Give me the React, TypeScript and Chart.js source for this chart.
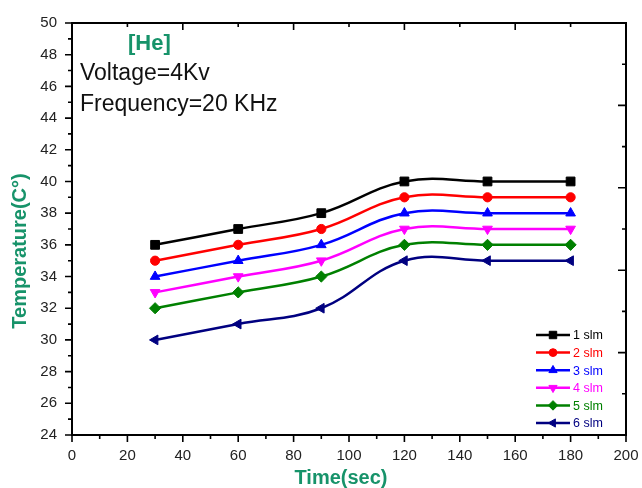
import React, { useEffect, useRef } from 'react';
import { Chart, registerables } from 'chart.js';
import { drawPoint } from 'chart.js/helpers';

Chart.register(...registerables);

// ---- data ----
const timeSec = [30, 60, 90, 120, 150, 180];
const slm1 = [36, 37, 38, 40, 40, 40];
const slm2 = [35, 36, 37, 39, 39, 39];
const slm3 = [34, 35, 36, 38, 38, 38];
const slm4 = [33, 34, 35, 37, 37, 37];
const slm5 = [32, 33, 34, 36, 36, 36];
const slm6 = [30, 31, 32, 35, 35, 35];
const seriesValues = [slm1, slm2, slm3, slm4, slm5, slm6];
const seriesLabels = ['1 slm', '2 slm', '3 slm', '4 slm', '5 slm', '6 slm'];
const seriesColors = ['#000000', '#ff0000', '#0000ff', '#ff00ff', '#008000', '#000080'];
const seriesMarkers = ['rect', 'circle', 'triangle', 'triangle', 'rectRot', 'triangle'];
const markerRotation = [0, 0, 0, 180, 0, -90];
const markerRadius = [6.2, 4.6, 5.6, 5.6, 5.6, 5.6];

const xMin = 0, xMax = 200, xStep = 20;
const yMin = 24, yMax = 50, yStep = 2;

const titleX = 'Time(sec)';
const titleY = 'Temperature(C°)';
const noteGas = '[He]';
const noteVoltage = 'Voltage=4Kv';
const noteFreq = 'Frequency=20 KHz';

const FONT = '"Liberation Sans", Arial, Helvetica, sans-serif';
const GREEN = '#17936a';

const framePlugin = {
  id: 'framePlugin',
  afterDraw(chart: any) {
    const { ctx, chartArea: a, scales } = chart;
    const xs = scales.x, ys = scales.y;
    ctx.save();
    ctx.strokeStyle = '#000';
    ctx.lineWidth = 2;
    ctx.strokeRect(a.left, a.top, a.right - a.left, a.bottom - a.top);
    ctx.lineWidth = 1.6;
    ctx.beginPath();
    // bottom ticks (outward): major 20, minor 10
    for (let v = xMin; v <= xMax; v += xStep / 2) {
      const px = xs.getPixelForValue(v);
      const len = v % xStep === 0 ? 7 : 4;
      ctx.moveTo(px, a.bottom); ctx.lineTo(px, a.bottom + len);
    }
    // top ticks (inward): major 40, minor 20
    for (let v = xMin; v <= xMax; v += xStep) {
      const px = xs.getPixelForValue(v);
      const len = v % (xStep * 2) === 0 ? 7 : 4;
      ctx.moveTo(px, a.top); ctx.lineTo(px, a.top + len);
    }
    // left ticks (outward): major 2, minor 1
    for (let v = yMin; v <= yMax; v += yStep / 2) {
      const py = ys.getPixelForValue(v);
      const len = (v - yMin) % yStep === 0 ? 7 : 4;
      ctx.moveTo(a.left, py); ctx.lineTo(a.left - len, py);
    }
    // right ticks (inward): own opposite-axis spacing
    const span = yMax - yMin;
    for (let k = 0; k <= 10; k++) {
      const py = ys.getPixelForValue(yMin + (span * k) / 10);
      const len = k % 2 === 0 ? 8 : 4;
      ctx.moveTo(a.right, py); ctx.lineTo(a.right - len, py);
    }
    ctx.stroke();

    // annotations
    ctx.textBaseline = 'alphabetic';
    ctx.textAlign = 'left';
    ctx.fillStyle = GREEN;
    ctx.font = `bold 22px ${FONT}`;
    ctx.fillText(noteGas, a.left + 56, a.top + 27);
    ctx.fillStyle = '#111';
    ctx.font = `23px ${FONT}`;
    ctx.fillText(noteVoltage, a.left + 8, a.top + 57);
    ctx.fillText(noteFreq, a.left + 8, a.top + 88);

    // axis titles
    ctx.fillStyle = GREEN;
    ctx.font = `bold 20px ${FONT}`;
    ctx.textAlign = 'center';
    ctx.textBaseline = 'middle';
    ctx.fillText(titleX, (a.left + a.right) / 2 - 8, a.bottom + 43);
    ctx.save();
    ctx.translate(20, (a.top + a.bottom) / 2 + 22);
    ctx.rotate(-Math.PI / 2);
    ctx.font = `bold 20px ${FONT}`;
    ctx.fillText(titleY, 0, 0);
    ctx.restore();

    // legend
    ctx.font = `12.5px ${FONT}`;
    ctx.textAlign = 'left';
    ctx.textBaseline = 'middle';
    const n = seriesLabels.length;
    for (let i = 0; i < n; i++) {
      const y = a.bottom - 12 - (n - 1 - i) * 17.6;
      const x0 = a.right - 90, x1 = a.right - 56;
      ctx.strokeStyle = seriesColors[i];
      ctx.fillStyle = seriesColors[i];
      ctx.lineWidth = 2.5;
      ctx.beginPath();
      ctx.moveTo(x0, y); ctx.lineTo(x1, y);
      ctx.stroke();
      ctx.lineWidth = 1;
      drawPoint(ctx, {
        pointStyle: seriesMarkers[i],
        radius: markerRadius[i] * 0.85,
        rotation: markerRotation[i],
        borderWidth: 1,
      } as any, (x0 + x1) / 2, y);
      ctx.fillStyle = seriesColors[i];
      ctx.fillText(seriesLabels[i], x1 + 3, y + 1);
    }
    ctx.restore();
  },
};

export default function App() {
  const ref = useRef<HTMLCanvasElement | null>(null);
  useEffect(() => {
    document.body.style.margin = '0';
    if (!ref.current) return;
    const chart = new Chart(ref.current, {
      type: 'line',
      data: {
        datasets: seriesValues.map((vals, i) => ({
          label: seriesLabels[i],
          data: vals.map((v, j) => ({ x: timeSec[j], y: v })),
          borderColor: seriesColors[i],
          backgroundColor: seriesColors[i],
          borderWidth: 2.5,
          tension: 0.4,
          pointStyle: seriesMarkers[i] as any,
          pointRotation: markerRotation[i],
          pointRadius: markerRadius[i],
          pointBorderWidth: 1,
          fill: false,
        })),
      },
      options: {
        animation: false,
        responsive: false,
        devicePixelRatio: 1,
        layout: { padding: { top: 23, right: 16, left: 0, bottom: 0 } },
        plugins: { legend: { display: false }, tooltip: { enabled: false } },
        scales: {
          x: {
            type: 'linear',
            min: xMin,
            max: xMax,
            grid: { display: false, drawTicks: false, tickLength: 0 },
            border: { display: false },
            ticks: { stepSize: xStep, padding: 12, color: '#222', font: { size: 15, family: FONT } },
            afterFit: (s: any) => { s.height = 53; s.paddingLeft = 0; s.paddingRight = 0; },
          },
          y: {
            type: 'linear',
            min: yMin,
            max: yMax,
            grid: { display: false, drawTicks: false, tickLength: 0 },
            border: { display: false },
            ticks: { stepSize: yStep, padding: 15, color: '#222', font: { size: 15, family: FONT } },
            afterFit: (s: any) => { s.width = 72; s.paddingTop = 0; s.paddingBottom = 0; },
          },
        },
      },
      plugins: [framePlugin],
    });
    return () => chart.destroy();
  }, []);
  return (
    <div style={{ width: 642, height: 488 }}>
      <canvas ref={ref} width={642} height={488} style={{ display: 'block' }} />
    </div>
  );
}
